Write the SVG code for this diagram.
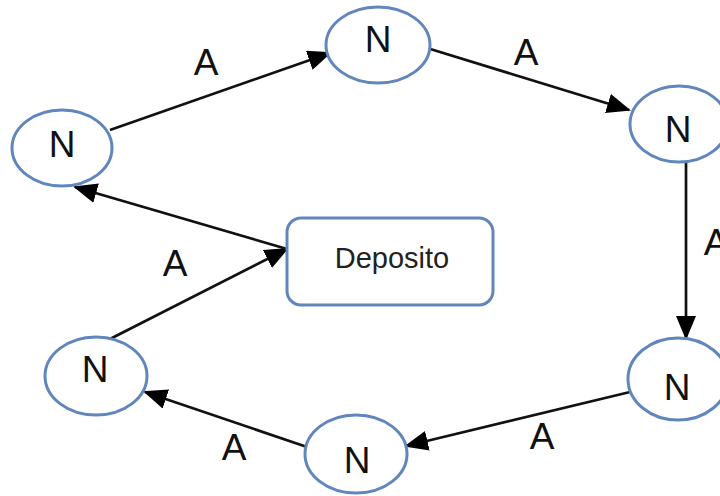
<svg xmlns="http://www.w3.org/2000/svg" width="720" height="496" viewBox="0 0 720 496">
<style>
.node{fill:#ffffff;stroke:#6186bb;stroke-width:3}
.lbl{font-family:"Liberation Sans",Arial,sans-serif;font-size:37px;fill:#111;text-anchor:middle}
.edge{stroke:#111;stroke-width:2.7;fill:none;marker-end:url(#ah)}
.dep{font-family:"Liberation Sans",Arial,sans-serif;font-size:29px;fill:#222;text-anchor:middle}
</style>
<defs>
<marker id="ah" markerUnits="userSpaceOnUse" markerWidth="24" markerHeight="20" viewBox="0 0 24 20" refX="22" refY="10" orient="auto">
<path d="M0,0 L24,10 L0,20 Z" fill="#000"/>
</marker>
</defs>
<rect width="720" height="496" fill="#ffffff"/>
<g id="connectors">
<line class="edge" x1="110" y1="130" x2="330" y2="53"/>
<line class="edge" x1="427" y1="48" x2="629" y2="110"/>
<line class="edge" x1="686" y1="163" x2="686" y2="338"/>
<line class="edge" x1="630" y1="392" x2="406" y2="446"/>
<line class="edge" x1="307" y1="447" x2="145" y2="392"/>
<line class="edge" x1="110" y1="339" x2="287" y2="249"/>
<line class="edge" x1="287" y1="249" x2="75" y2="187"/>
<text class="lbl" x="206" y="75">A</text>
<text class="lbl" x="526" y="65">A</text>
<text class="lbl" x="716" y="255">A</text>
<text class="lbl" x="542" y="449">A</text>
<text class="lbl" x="234" y="460">A</text>
<text class="lbl" x="175" y="276">A</text>
</g>
<g id="n1"><ellipse class="node" cx="62" cy="148" rx="50" ry="38"/><text class="lbl" x="62" y="157">N</text></g>
<g id="n2"><ellipse class="node" cx="378" cy="45" rx="52" ry="38"/><text class="lbl" x="378" y="52">N</text></g>
<g id="n3"><ellipse class="node" cx="679" cy="124" rx="49" ry="38"/><text class="lbl" x="678" y="142">N</text></g>
<g id="n4"><ellipse class="node" cx="678" cy="379" rx="50" ry="41"/><text class="lbl" x="677" y="400">N</text></g>
<g id="n5"><ellipse class="node" cx="356" cy="454" rx="51" ry="39"/><text class="lbl" x="357" y="473">N</text></g>
<g id="n6"><ellipse class="node" cx="96" cy="376" rx="51" ry="39"/><text class="lbl" x="95" y="382">N</text></g>
<g id="deposito"><rect class="node" x="287" y="218" width="206" height="87" rx="14"/><text class="dep" x="392" y="268">Deposito</text></g>
</svg>
